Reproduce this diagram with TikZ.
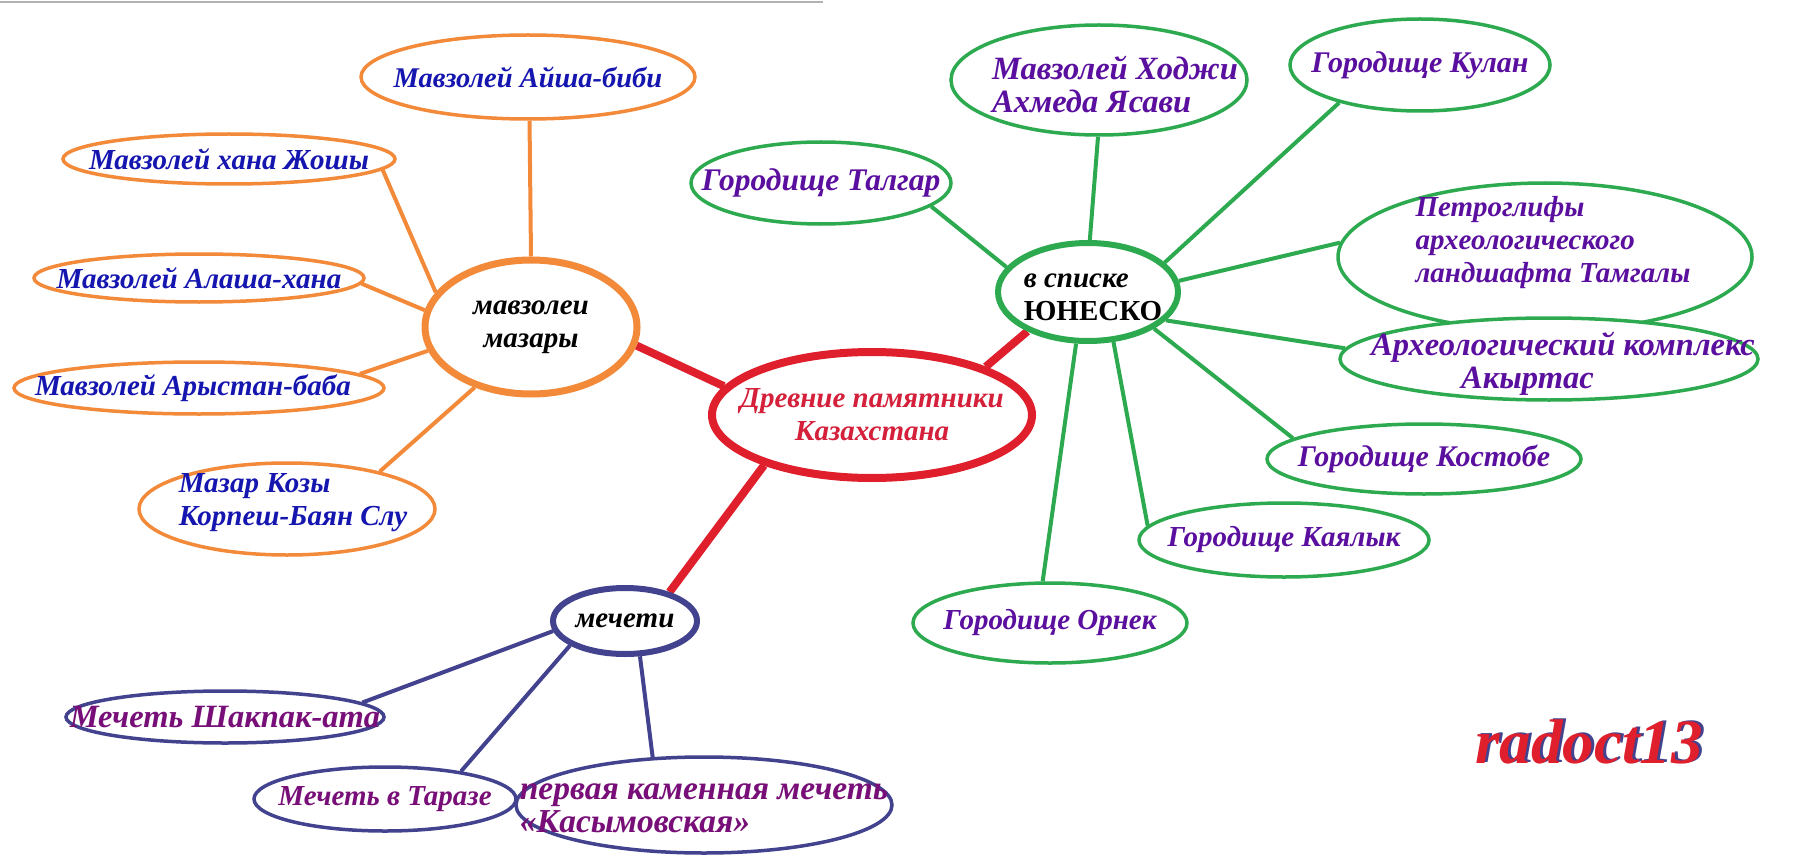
\documentclass[tikz,border=0pt]{standalone}
\usepackage{fontspec}
\setmainfont{Liberation Serif}
\usetikzlibrary{shapes.geometric}
\pgfdeclarelayer{background}
\pgfsetlayers{background,main}
\definecolor{cOr}{HTML}{F28A3A}
\definecolor{cRed}{HTML}{E01F2D}
\definecolor{cGr}{HTML}{2DAA4F}
\definecolor{cNv}{HTML}{42428F}
\definecolor{tBlue}{HTML}{1515B0}
\definecolor{tViol}{HTML}{5B0F9E}
\definecolor{tMar}{HTML}{780F78}
\definecolor{tRed}{HTML}{D4203A}
\begin{document}
\begin{tikzpicture}[x=1pt,y=-1pt,
  oval/.style={ellipse, fill=white, inner sep=0pt},
  txt/.style={font=\fontsize{29}{33}\selectfont\bfseries\itshape, align=left, inner sep=0pt},
  big/.style={font=\fontsize{32.5}{33}\selectfont\bfseries\itshape},
  small/.style={font=\fontsize{28.5}{33}\selectfont\bfseries\itshape},
  hub/.style={oval, line width=7pt},
  ochild/.style={oval, draw=cOr, line width=3.5pt},
  gchild/.style={oval, draw=cGr, line width=3.5pt},
  bchild/.style={oval, draw=cNv, line width=3.5pt},
  oline/.style={draw=cOr, line width=4pt},
  gline/.style={draw=cGr, line width=4pt},
  bline/.style={draw=cNv, line width=4pt},
  rline/.style={draw=cRed, line width=8pt}]
\useasboundingbox (0,0) rectangle (1793,861);
\draw[gray!60, line width=2pt] (0,2) -- (823,2);

% hubs
\node[hub, draw=cRed, line width=8pt, minimum width=320, minimum height=126,
  label={[txt, text=tRed, align=center]center:Древние памятники\\Казахстана}] (C) at (872,415) {};
\node[hub, draw=cOr, minimum width=212, minimum height=134,
  label={[txt, text=black, align=center]center:мавзолеи\\мазары}] (M) at (531,327) {};
\node[hub, draw=cGr, line width=6pt, minimum width=180, minimum height=98,
  label={[txt, text=black, xshift=5pt, yshift=-5pt]center:в списке\\{\upshape ЮНЕСКО}}] (U) at (1088,292) {};
\node[hub, draw=cNv, line width=6pt, minimum width=144, minimum height=66,
  label={[txt, text=black]center:мечети}] (Q) at (625,621) {};

% orange children
\node[ochild, minimum width=334, minimum height=84,
  label={[txt, small, text=tBlue]center:Мавзолей Айша-биби}] (aisha) at (528,77) {};
\node[ochild, minimum width=332, minimum height=50,
  label={[txt, text=tBlue]center:Мавзолей хана Жошы}] (josh) at (229,159) {};
\node[ochild, minimum width=330, minimum height=48,
  label={[txt, text=tBlue]center:Мавзолей Алаша-хана}] (alasha) at (199,278) {};
\node[ochild, minimum width=370, minimum height=52,
  label={[txt, text=tBlue, xshift=-6pt]center:Мавзолей Арыстан-баба}] (arys) at (199,388) {};
\node[ochild, minimum width=296, minimum height=92,
  label={[txt, text=tBlue, xshift=6pt, yshift=6pt]center:Мазар Козы\\Корпеш-Баян Слу}] (mazar) at (287,509) {};

% green children
\node[gchild, minimum width=296, minimum height=110,
  label={[txt, big, text=tViol, xshift=16pt, yshift=-4pt]center:Мавзолей Ходжи\\Ахмеда Ясави}] (yasavi) at (1099,80) {};
\node[gchild, minimum width=260, minimum height=92,
  label={[txt, font=\fontsize{30}{33}\selectfont\bfseries\itshape, text=tViol]center:Городище Кулан}] (kulan) at (1420,65) {};
\node[gchild, minimum width=260, minimum height=82,
  label={[txt, font=\fontsize{31.5}{33}\selectfont\bfseries\itshape, text=tViol]center:Городище Талгар}] (talgar) at (821,183) {};
\node[gchild, minimum width=414, minimum height=148,
  label={[txt, text=tViol, xshift=8pt, yshift=14pt]center:Петроглифы\\археологического\\ландшафта Тамгалы}] (petro) at (1545,257) {};
\node[gchild, minimum width=418, minimum height=82,
  label={[txt, big, text=tViol, xshift=14pt, yshift=-5pt]center:Археологический комплекс\\\hspace*{90pt}Акыртас}] (akyr) at (1549,359) {};
\node[gchild, minimum width=314, minimum height=70,
  label={[txt, font=\fontsize{30}{33}\selectfont\bfseries\itshape, text=tViol]center:Городище Костобе}] (kostobe) at (1424,459) {};
\node[gchild, minimum width=290, minimum height=74,
  label={[txt, text=tViol]center:Городище Каялык}] (kayalyk) at (1284,540) {};
\node[gchild, minimum width=274, minimum height=80,
  label={[txt, text=tViol]center:Городище Орнек}] (ornek) at (1050,623) {};

% blue children
\node[bchild, minimum width=318, minimum height=52,
  label={[txt, big, text=tMar]center:Мечеть Шакпак-ата}] (shakpak) at (225,717) {};
\node[bchild, minimum width=262, minimum height=64,
  label={[txt, text=tMar]center:Мечеть в Таразе}] (taraz) at (385,799) {};
\node[bchild, minimum width=376, minimum height=96,
  label={[txt, font=\fontsize{33.5}{33}\selectfont\bfseries\itshape, text=tMar, yshift=-3pt]center:первая каменная мечеть\\«Касымовская»}] (pervaya) at (704,805) {};

% signature
\node[txt, font=\fontsize{63}{70}\selectfont\bfseries\itshape, text=cNv, anchor=base, xshift=3pt, yshift=1pt] (sigs) at (1589,763) {radoct13};
\node[txt, font=\fontsize{63}{70}\selectfont\bfseries\itshape, text=cRed, anchor=base] (sig) at (1589,763) {radoct13};

\begin{pgfonlayer}{background}
\fill[white] (0,0) rectangle (1793,861);
\path[rline] (C.169) -- (M.-10);
\path[rline] (C.23) -- (U.213);
\path[rline] (C.205) -- (Q.33);
\path[oline] (aisha.-88) -- (M.90);
\path[oline] (josh.-4) -- (M.160);
\path[oline] (alasha.-2) -- (M.171);
\path[oline] (arys.5) -- (M.193);
\path[oline] (mazar.22) -- (M.227);
\path[gline] (yasavi.-91) -- (U.88);
\path[gline] (kulan.205) -- (U.21);
\path[gline] (talgar.-12) -- (U.163);
\path[gline] (petro.176) -- (U.7);
\path[gline] (akyr.177) -- (U.-20);
\path[gline] (kostobe.171) -- (U.-29);
\path[gline] (kayalyk.174) -- (U.-63);
\path[gline] (ornek.100) -- (U.-103);
\path[bline] (shakpak.6) -- (Q.188);
\path[bline] (taraz.20) -- (Q.204);
\path[bline] (pervaya.137) -- (Q.-67);
\end{pgfonlayer}
\end{tikzpicture}
\end{document}
